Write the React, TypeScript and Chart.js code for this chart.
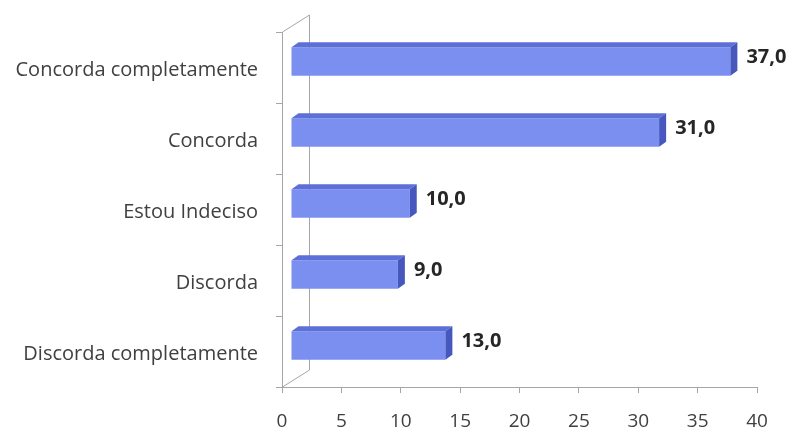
import React, { useEffect, useRef } from "react";
import { Chart, registerables } from "chart.js";

Chart.register(...registerables);

const categories = [
  "Concorda completamente",
  "Concorda",
  "Estou Indeciso",
  "Discorda",
  "Discorda completamente",
];
const values = [37.0, 31.0, 10.0, 9.0, 13.0];
const xTicksMin = 0;
const xTicksMax = 40;
const xTicksStep = 5;

const DX = 9; // bar offset into depth
const DY = -6;
const BDX = 7; // bar depth
const BDY = -5;
const WDX = 27; // wall depth
const WDY = -17;
const AXIS = "#a6a6a6";
const FONT = "'Open Sans', Lato, sans-serif";

const threeD = {
  id: "threeD",
  beforeDatasetsDraw(chart: any) {
    const { ctx, chartArea } = chart;
    const { left, top, bottom } = chartArea;
    ctx.save();
    ctx.strokeStyle = AXIS;
    ctx.lineWidth = 1;
    ctx.beginPath();
    ctx.moveTo(left + 0.5, top);
    ctx.lineTo(left + WDX + 0.5, top + WDY);
    ctx.lineTo(left + WDX + 0.5, bottom + WDY);
    ctx.lineTo(left + 0.5, bottom);
    ctx.stroke();
    ctx.restore();
    ctx.save();
    ctx.translate(DX, DY);
  },
  afterDatasetsDraw(chart: any) {
    const { ctx } = chart;
    ctx.restore();
    const meta = chart.getDatasetMeta(0);
    ctx.save();
    meta.data.forEach((el: any, i: number) => {
      const p = el.getProps(["x", "y", "base", "height"], true);
      const x0 = p.base + DX;
      const x1 = p.x + DX;
      const yT = p.y - p.height / 2 + DY;
      const yB = p.y + p.height / 2 + DY;
      // top face
      ctx.fillStyle = "#5c70d8";
      ctx.beginPath();
      ctx.moveTo(x0, yT);
      ctx.lineTo(x0 + BDX, yT + BDY);
      ctx.lineTo(x1 + BDX, yT + BDY);
      ctx.lineTo(x1, yT);
      ctx.closePath();
      ctx.fill();
      // side face
      ctx.fillStyle = "#4658bd";
      ctx.beginPath();
      ctx.moveTo(x1, yT);
      ctx.lineTo(x1 + BDX, yT + BDY);
      ctx.lineTo(x1 + BDX, yB + BDY);
      ctx.lineTo(x1, yB);
      ctx.closePath();
      ctx.fill();
      // value label
      ctx.fillStyle = "#262626";
      ctx.font = "bold 20px " + FONT;
      ctx.textAlign = "left";
      ctx.textBaseline = "middle";
      const v = values[i];
      ctx.fillText(v.toFixed(1).replace(".", ","), x1 + BDX + 9, p.y + DY - 4);
    });
    ctx.restore();
  },
};

export default function App() {
  const ref = useRef<HTMLCanvasElement | null>(null);
  useEffect(() => {
    if (!ref.current) return;
    const ctx = ref.current.getContext("2d")!;
    const chart = new Chart(ref.current, {
      type: "bar",
      data: {
        labels: categories,
        datasets: [
          {
            data: values,
            backgroundColor: (c: any) => {
              const el = c.element;
              if (!el) return "#7b8ff0";
              const y = el.y;
              const h = el.height;
              if (!Number.isFinite(y) || !Number.isFinite(h) || h <= 0) return "#7b8ff0";
              const g = ctx.createLinearGradient(0, y - h / 2, 0, y + h / 2);
              g.addColorStop(0, "#7f93f2");
              g.addColorStop(0.5, "#8599f3");
              g.addColorStop(1, "#6f84ea");
              return g;
            },
            borderWidth: 0,
            categoryPercentage: 1,
            barPercentage: 0.4,
            clip: false as any,
          },
        ],
      },
      options: {
        indexAxis: "y",
        animation: false,
        responsive: true,
        maintainAspectRatio: false,
        layout: { padding: { top: 32, right: 36, left: 0, bottom: 0 } },
        plugins: { legend: { display: false }, tooltip: { enabled: false } },
        scales: {
          x: {
            min: xTicksMin,
            max: xTicksMax,
            ticks: {
              stepSize: xTicksStep,
              color: "#404040",
              font: { family: FONT, size: 19 },
              padding: 17,
              maxRotation: 0,
            },
            grid: { drawOnChartArea: false, tickLength: 6, tickColor: AXIS, color: AXIS },
            border: { color: AXIS },
            afterFit: (s: any) => {
              s.height = 45;
            },
          },
          y: {
            ticks: {
              color: "#404040",
              font: { family: FONT, size: 20 },
              padding: 18,
              labelOffset: 3,
            },
            grid: { drawOnChartArea: false, tickLength: 6, tickColor: AXIS, color: AXIS, offset: true },
            border: { color: AXIS },
            afterFit: (s: any) => {
              s.width = 282;
            },
          },
        },
      },
      plugins: [threeD],
    });
    return () => chart.destroy();
  }, []);
  return (
    <div style={{ position: "absolute", left: 0, top: 0, width: 793, height: 432, background: "#fff" }}>
      <canvas ref={ref} />
    </div>
  );
}
